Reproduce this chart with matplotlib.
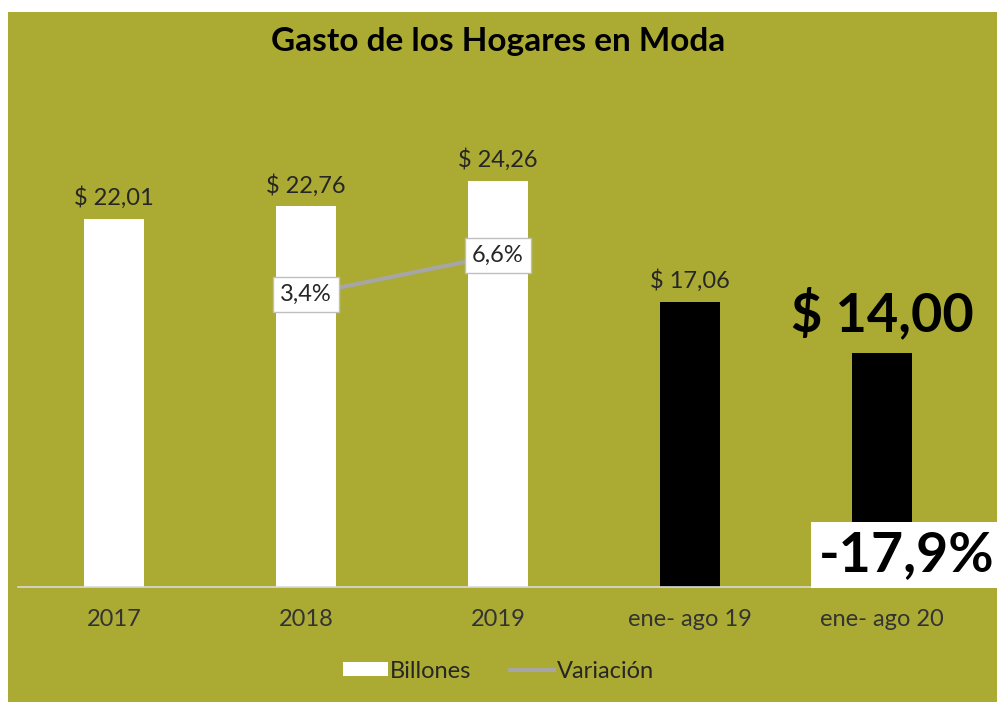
import numpy as np
import matplotlib.pyplot as plt
from matplotlib.patches import Rectangle, Patch
from matplotlib.lines import Line2D

categorias = ["2017", "2018", "2019", "ene- ago 19", "ene- ago 20"]
billones = [22.01, 22.76, 24.26, 17.06, 14.00]
variacion = [np.nan, 3.4, 6.6, np.nan, -17.9]
etiquetas_billones = ["$ 22,01", "$ 22,76", "$ 24,26", "$ 17,06", "$ 14,00"]
etiquetas_variacion = ["", "3,4%", "6,6%", "", "-17,9%"]
colores_barras = ["white", "white", "white", "black", "black"]

FONDO = "#ABAA33"
FUENTE = "Lato"

plt.rcParams['font.family'] = [FUENTE, 'DejaVu Sans']

fig = plt.figure(figsize=(9.97, 7.02), dpi=100, facecolor="white")
fig.patches.append(Rectangle((8 / 997, 0), 1, (702 - 12) / 702, transform=fig.transFigure,
                             facecolor=FONDO, edgecolor="none", zorder=-10))

ax = fig.add_axes([18 / 997, 115 / 702, 960 / 997, 502 / 702])
ax.set_facecolor("none")
x = np.arange(len(categorias))
barras = ax.bar(x, billones, width=0.31, color=colores_barras, zorder=2)
ax.set_ylim(0, 30)
ax.set_xlim(-0.5, len(categorias) - 0.5)
ax.set_yticks([])
ax.set_xticks(x)
ax.set_xticklabels(categorias, fontsize=17, color="#333333")
ax.tick_params(axis="x", length=0, pad=16)
for lado in ["top", "right", "left"]:
    ax.spines[lado].set_visible(False)
ax.spines["bottom"].set_color("#D9D9D9")
ax.spines["bottom"].set_linewidth(1.2)

# etiquetas de las barras
for i, (v, txt) in enumerate(zip(billones, etiquetas_billones)):
    if i == 4:
        ax.annotate(txt, (i, v), xytext=(0, 9), textcoords="offset points",
                    ha="center", va="bottom", fontsize=39, fontweight="bold", color="black")
    else:
        ax.annotate(txt, (i, v), xytext=(0, 7), textcoords="offset points",
                    ha="center", va="bottom", fontsize=17, color="#262626")

# variación en eje secundario
ax2 = ax.twinx()
ax2.set_ylim(-20.5, 20.5)
ax2.axis("off")
ax2.plot(x, variacion, color="#A6A6A6", linewidth=3, zorder=3)
for i, (v, txt) in enumerate(zip(variacion, etiquetas_variacion)):
    if not txt:
        continue
    if i == 4:
        ax2.annotate(txt, (i, v), xytext=(18, 0), textcoords="offset points",
                     ha="center", va="center", fontsize=40, fontweight="bold", color="black",
                     bbox=dict(boxstyle="square,pad=0.15", facecolor="white", edgecolor="none"),
                     zorder=5)
    else:
        ax2.annotate(txt, (i, v), ha="center", va="center", fontsize=17, color="#262626",
                     bbox=dict(boxstyle="square,pad=0.3", facecolor="white", edgecolor="#BFBFBF"),
                     zorder=5)

fig.text(0.5, 1 - 42 / 702, "Gasto de los Hogares en Moda", ha="center", va="center",
         fontsize=24, fontweight="bold", color="black")

manejadores = [Patch(facecolor="white", edgecolor="none", label="Billones"),
               Line2D([], [], color="#A6A6A6", linewidth=3, label="Variación")]
fig.legend(handles=manejadores, loc="center", bbox_to_anchor=(0.5, 1 - 671 / 702),
           ncol=2, frameon=False, fontsize=17, handlelength=1.9, handleheight=0.55,
           handletextpad=0.1, columnspacing=1.6, labelcolor="#262626")

fig.savefig("out.png", dpi=100, facecolor=fig.get_facecolor())
